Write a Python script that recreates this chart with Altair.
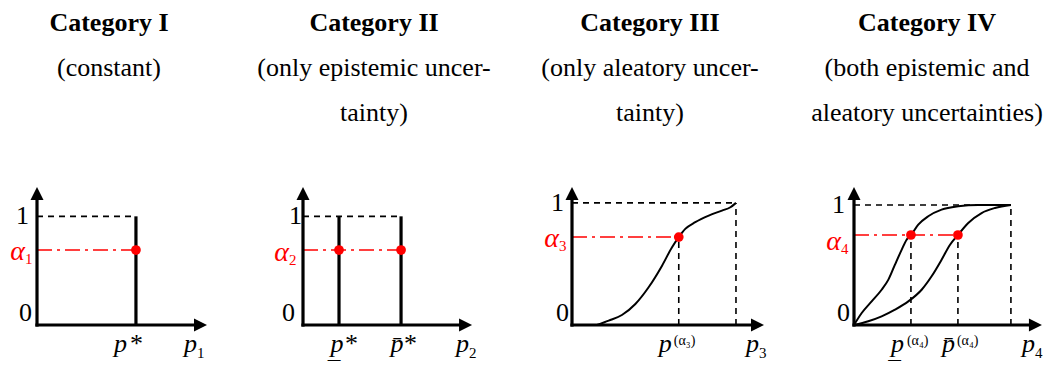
import altair as alt
import pandas as pd

FONT = "Liberation Serif"
RED = "#ff0000"

# ---------------- values (p scaled so the x-arrow tip sits at 1) ----------------
# Category I: a single constant value
P1_STAR = 0.582
A1 = 0.69
# Category II: an interval [lower, upper]
P2_LO, P2_HI = 0.213, 0.58
A2 = 0.69
# Category III: one CDF
A3 = 0.72
P3_ALPHA = 0.556
P3_END = 0.854
cdf3_p = [0.13, 0.191, 0.26, 0.33, 0.399, 0.469, 0.521, 0.556, 0.59, 0.642, 0.712, 0.781, 0.825, 0.854]
cdf3_F = [0.0, 0.036, 0.082, 0.172, 0.309, 0.486, 0.637, 0.72, 0.787, 0.842, 0.896, 0.937, 0.964, 1.0]
# Category IV: a p-box bounded by two CDFs
A4 = 0.75
P4_LO, P4_HI, P4_END = 0.303, 0.553, 0.835
upper_p = [0, 0.041, 0.094, 0.147, 0.183, 0.218, 0.254, 0.280, 0.303, 0.342, 0.395, 0.466, 0.555, 0.661, 0.835]
upper_F = [0, 0.10, 0.197, 0.294, 0.378, 0.503, 0.628, 0.711, 0.75, 0.836, 0.906, 0.961, 0.989, 1.0, 1.0]
lower_p = [0, 0.076, 0.147, 0.218, 0.289, 0.360, 0.413, 0.466, 0.511, 0.553, 0.608, 0.679, 0.750, 0.835]
lower_F = [0, 0.031, 0.072, 0.128, 0.197, 0.294, 0.406, 0.544, 0.669, 0.75, 0.85, 0.933, 0.975, 1.0]

titles = ["Category I", "Category II", "Category III", "Category IV"]
subtitles = [
    ["(constant)", " "],
    ["(only epistemic uncer-", "tainty)"],
    ["(only aleatory uncer-", "tainty)"],
    ["(both epistemic and", "aleatory uncertainties)"],
]

# ---------------- styling ----------------
H = 138
AXIS_W = 3.2
DASH = dict(color="black", strokeWidth=1.6, strokeDash=[6, 5])
DASHDOT = dict(color=RED, strokeWidth=1.6, strokeDash=[15, 5, 3, 5])
THICK = dict(color="black", strokeWidth=AXIS_W)
ARROW_RIGHT = "M0,0L-2,-1L-2,1Z"
ARROW_UP = "M0,0L-1,2L1,2Z"


class Panel:
    def __init__(self, xmax, ymax, width):
        self.xs = alt.Scale(domain=[0, xmax], nice=False, zero=False)
        self.ys = alt.Scale(domain=[0, ymax], nice=False, zero=False)
        self.ymax = ymax
        self.width = width
        self.layers = []

    def enc(self):
        return dict(x=alt.X("x:Q", scale=self.xs, axis=None),
                    y=alt.Y("y:Q", scale=self.ys, axis=None))

    def seg(self, x0, y0, x1, y1, **mk):
        df = pd.DataFrame({"x": [x0], "y": [y0], "x2": [x1], "y2": [y1]})
        self.layers.append(alt.Chart(df).mark_rule(**mk).encode(
            x2="x2:Q", y2="y2:Q", **self.enc()))

    def curve(self, xs, ys):
        df = pd.DataFrame({"x": xs, "y": ys})
        self.layers.append(alt.Chart(df).mark_line(
            interpolate="monotone", color="black", strokeWidth=2).encode(**self.enc()))

    def dots(self, xs, ys):
        df = pd.DataFrame({"x": xs, "y": ys})
        self.layers.append(alt.Chart(df).mark_circle(
            color=RED, size=95, opacity=1).encode(**self.enc()))

    def axes(self):
        self.seg(0, 0, 0.95, 0, strokeCap="square", **THICK)
        self.seg(0, 0, 0, self.ymax - 0.07, strokeCap="square", **THICK)
        for shape, x, y in [(ARROW_RIGHT, 1.0, 0.0), (ARROW_UP, 0.0, self.ymax)]:
            df = pd.DataFrame({"x": [x], "y": [y]})
            self.layers.append(alt.Chart(df).mark_point(
                shape=shape, size=169, filled=True, color="black",
                opacity=1, strokeWidth=0).encode(**self.enc()))

    def text(self, x, y, s, dx=0, dy=0, size=26, style="normal",
             color="black", align="center", baseline="alphabetic"):
        df = pd.DataFrame({"x": [x], "y": [y]})
        self.layers.append(alt.Chart(df).mark_text(
            text=s, font=FONT, fontSize=size, fontStyle=style, color=color,
            align=align, baseline=baseline, dx=dx, dy=dy).encode(**self.enc()))

    def ylabels(self, alpha, sub, dx1, dx0, adx, ady):
        self.text(0, 1, "1", dx=dx1, align="right", baseline="middle")
        self.text(0, 0, "0", dx=dx0, dy=-4, align="right")
        self.text(0, alpha, "α", dx=adx, dy=ady, size=28, style="italic",
                  color=RED, align="right")
        self.text(0, alpha, sub, dx=adx, dy=ady + 4, size=15, color=RED, align="left")

    def xname(self, sub, dx):
        self.text(1.0, 0, "p", dx=dx, dy=27, style="italic", align="right")
        self.text(1.0, 0, sub, dx=dx, dy=33, size=15, align="left")

    def chart(self, i, tdx):
        return alt.layer(*self.layers).properties(
            width=self.width, height=H,
            title=alt.TitleParams(
                text=titles[i], subtitle=subtitles[i], anchor="middle", dx=tdx,
                font=FONT, fontSize=26, fontWeight="bold", color="black",
                subtitleFont=FONT, subtitleFontSize=26, subtitleFontWeight="normal",
                subtitleColor="black", subtitleLineHeight=45, subtitlePadding=19,
                offset=61,
            ),
        )


# ---- Category I ----
c1 = Panel(1.094, 1.27, 186)
c1.seg(0, 1, P1_STAR, 1, **DASH)
c1.seg(0, A1, P1_STAR, A1, **DASHDOT)
c1.seg(P1_STAR, 0, P1_STAR, 1, **THICK)
c1.axes()
c1.dots([P1_STAR], [A1])
c1.ylabels(A1, "1", -8, -5, -12, 10)
c1.text(P1_STAR, 0, "p", dx=-9, dy=27, style="italic", align="right")
c1.text(P1_STAR, 0, "*", dx=-6, dy=27, align="left")
c1.xname("1", -10)

# ---- Category II ----
c2 = Panel(1.118, 1.27, 189)
c2.seg(0, 1, P2_HI, 1, **DASH)
c2.seg(0, A2, P2_HI, A2, **DASHDOT)
c2.seg(P2_LO, 0, P2_LO, 1, **THICK)
c2.seg(P2_HI, 0, P2_HI, 1, **THICK)
c2.axes()
c2.dots([P2_LO, P2_HI], [A2, A2])
c2.ylabels(A2, "2", -1, -8, -14, 11)
c2.text(P2_LO, 0, "p\u0332", dx=-2, dy=27, style="italic")
c2.text(P2_LO, 0, "*", dx=6, dy=27, align="left")
c2.text(P2_HI, 0, "p\u0304", dx=-4, dy=27, style="italic")
c2.text(P2_HI, 0, "*", dx=3, dy=27, align="left")
c2.xname("2", -3)

# ---- Category III ----
c3 = Panel(1.052, 1.13, 202)
c3.seg(0, 1, P3_END, 1, **DASH)
c3.seg(P3_END, 0, P3_END, 1, **DASH)
c3.seg(P3_ALPHA, 0, P3_ALPHA, A3, **DASH)
c3.seg(0, A3, P3_ALPHA, A3, **DASHDOT)
c3.curve(cdf3_p, cdf3_F)
c3.axes()
c3.dots([P3_ALPHA], [A3])
c3.ylabels(A3, "3", -8, -3, -13, 10)
c3.text(P3_ALPHA, 0, "p", dx=-7, dy=27, style="italic", align="right")
c3.text(P3_ALPHA, 0, "(α₃)", dx=-5, dy=20, size=14, align="left")
c3.xname("3", -5)

# ---- Category IV ----
c4 = Panel(1.027, 1.15, 193)
c4.seg(0, 1, P4_END, 1, **DASH)
c4.seg(P4_END, 0, P4_END, 1, **DASH)
c4.seg(P4_LO, 0, P4_LO, A4, **DASH)
c4.seg(P4_HI, 0, P4_HI, A4, **DASH)
c4.seg(0, A4, P4_HI, A4, **DASHDOT)
c4.curve(upper_p, upper_F)
c4.curve(lower_p, lower_F)
c4.axes()
c4.dots([P4_LO, P4_HI], [A4, A4])
c4.ylabels(A4, "4", -9, -4, -13, 15)
c4.text(P4_LO, 0, "p\u0332", dx=-7, dy=27, style="italic", align="right")
c4.text(P4_LO, 0, "(α₄)", dx=-4, dy=20, size=14, align="left")
c4.text(P4_HI, 0, "p\u0304", dx=-3, dy=27, style="italic", align="right")
c4.text(P4_HI, 0, "(α₄)", dx=-1, dy=20, size=14, align="left")
c4.xname("4", -7)

chart = alt.hconcat(
    c1.chart(0, -21), c2.chart(1, -23.5), c3.chart(2, -23), c4.chart(3, -23.5),
    spacing=80, bounds="flush",
).configure_view(stroke=None).properties(
    background="white", padding={"left": 10, "top": 10, "right": 0, "bottom": 0},
)

chart.save("out.html", embed_options={"renderer": "svg", "actions": False})
